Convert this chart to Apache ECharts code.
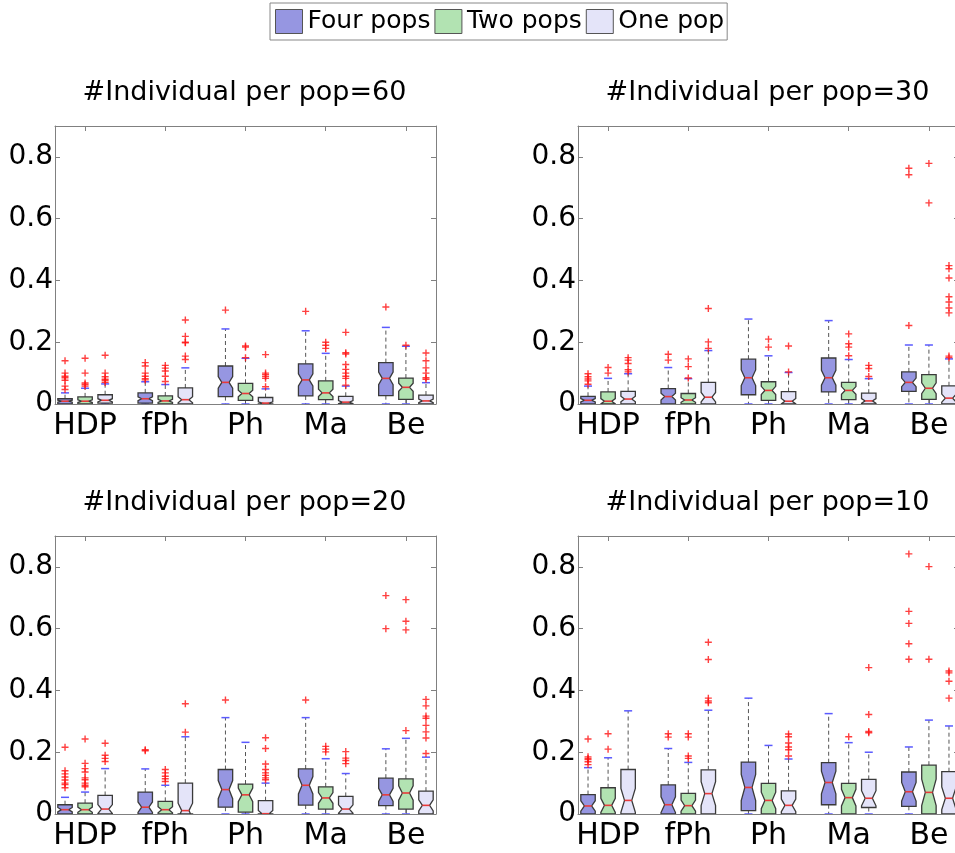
<!DOCTYPE html>
<html>
<head>
<meta charset="utf-8">
<script src="https://cdn.jsdelivr.net/npm/echarts@6/dist/echarts.min.js"></script>
<style>
  html, body { margin: 0; padding: 0; background: #fff; }
  #chart { width: 955px; height: 853px; }
</style>
</head>
<body>
<div id="chart"></div>
<script>
const groups = ["HDP", "fPh", "Ph", "Ma", "Be"];
const popNames = ["Four pops", "Two pops", "One pop"];
const titles = ["#Individual per pop=60", "#Individual per pop=30", "#Individual per pop=20", "#Individual per pop=10"];

// one row per group: [low whisker, Q1, median, Q3, high whisker]
const n60Four = [[0, 0, 0.009, 0.017, 0.036], [0, 0.003, 0.017, 0.036, 0.072], [0, 0.024, 0.07, 0.123, 0.243], [0, 0.026, 0.078, 0.13, 0.237], [0, 0.027, 0.083, 0.134, 0.248]];
const n60Two = [[0, 0, 0.009, 0.023, 0.051], [0, 0, 0.01, 0.026, 0.063], [0, 0.012, 0.034, 0.067, 0.148], [0, 0.014, 0.036, 0.075, 0.164], [0, 0.015, 0.054, 0.084, 0.187]];
const n60One = [[0, 0.003, 0.012, 0.03, 0.065], [0, 0, 0.014, 0.052, 0.117], [0, 0, 0.003, 0.021, 0.049], [0, 0, 0.006, 0.025, 0.058], [0, 0, 0.01, 0.029, 0.069]];
const n60FourOut = [[0.14, 0.10, 0.09, 0.085, 0.077, 0.058, 0.047], [0.134, 0.123, 0.10, 0.09, 0.082, 0.078], [0.304], [0.3], [0.314]];
const n60TwoOut = [[0.148, 0.10, 0.068, 0.063, 0.058], [0.125, 0.116, 0.107, 0.09, 0.073], [0.188, 0.184, 0.15], [0.2, 0.19, 0.18], [0.19]];
const n60OneOut = [[0.158, 0.10, 0.088, 0.08, 0.076, 0.07], [0.272, 0.219, 0.2, 0.198, 0.155, 0.144], [0.16, 0.1, 0.095, 0.089, 0.083, 0.056], [0.232, 0.166, 0.162, 0.128, 0.112, 0.1, 0.09, 0.083, 0.061], [0.165, 0.14, 0.117, 0.1, 0.085, 0.08]];

const n30Four = [[0, 0, 0.012, 0.025, 0.058], [0, 0, 0.024, 0.05, 0.118], [0, 0.03, 0.085, 0.145, 0.275], [0, 0.039, 0.085, 0.149, 0.27], [0, 0.041, 0.07, 0.104, 0.191]];
const n30Two = [[0, 0, 0.009, 0.039, 0.083], [0, 0, 0.013, 0.034, 0.082], [0, 0.012, 0.044, 0.072, 0.156], [0, 0.014, 0.044, 0.07, 0.144], [0, 0.015, 0.051, 0.095, 0.191]];
const n30One = [[0, 0, 0.016, 0.041, 0.098], [0, 0, 0.022, 0.07, 0.173], [0, 0, 0.009, 0.04, 0.102], [0, 0, 0.01, 0.035, 0.082], [0, 0, 0.019, 0.059, 0.146]];
const n30FourOut = [[0.098, 0.088, 0.081, 0.075, 0.064], [0.161, 0.142], [], [], [0.763, 0.742, 0.254]];
const n30TwoOut = [[0.118, 0.1], [0.146, 0.121, 0.084], [0.21, 0.184], [0.227, 0.195, 0.184, 0.156], [0.779, 0.651]];
const n30OneOut = [[0.15, 0.142, 0.131, 0.111, 0.104], [0.309, 0.201, 0.18], [0.188, 0.104], [0.125, 0.115, 0.089], [0.448, 0.438, 0.408, 0.347, 0.33, 0.311, 0.295, 0.155, 0.15]];

const n20Four = [[0, 0, 0.014, 0.03, 0.054], [0, 0, 0.022, 0.071, 0.146], [0, 0.022, 0.079, 0.144, 0.312], [0, 0.029, 0.093, 0.146, 0.312], [0, 0.027, 0.062, 0.116, 0.211]];
const n20Two = [[0, 0, 0.014, 0.035, 0.071], [0, 0, 0.014, 0.041, 0.093], [0, 0.006, 0.062, 0.097, 0.232], [0, 0.016, 0.052, 0.088, 0.179], [0, 0.016, 0.068, 0.114, 0.245]];
const n20One = [[0, 0, 0.016, 0.06, 0.147], [0, 0, 0.011, 0.1, 0.25], [0, 0, 0.001, 0.043, 0.1], [0, 0, 0.016, 0.057, 0.131], [0, 0, 0.028, 0.074, 0.184]];
const n20FourOut = [[0.216, 0.14, 0.13, 0.12, 0.11, 0.10, 0.095, 0.085], [0.208, 0.205], [0.369], [0.369], [0.707, 0.6]];
const n20TwoOut = [[0.243, 0.164, 0.147, 0.136, 0.117, 0.111, 0.1, 0.093, 0.088], [0.144, 0.133, 0.122, 0.114, 0.105], [], [0.219, 0.21, 0.201], [0.694, 0.624, 0.596, 0.27]];
const n20OneOut = [[0.229, 0.19, 0.18, 0.17], [0.357, 0.265], [0.247, 0.212, 0.162, 0.144, 0.133, 0.125, 0.117, 0.111], [0.202, 0.181, 0.173, 0.163], [0.371, 0.35, 0.317, 0.31, 0.287, 0.266, 0.246, 0.196]];

const n10Four = [[0, 0, 0.026, 0.063, 0.15], [0, 0, 0.03, 0.094, 0.212], [0, 0.011, 0.086, 0.168, 0.375], [0, 0.03, 0.102, 0.166, 0.325], [0, 0.025, 0.072, 0.136, 0.217]];
const n10Two = [[0, 0, 0.028, 0.085, 0.182], [0, 0, 0.027, 0.067, 0.167], [0, 0, 0.044, 0.099, 0.222], [0, 0, 0.053, 0.099, 0.231], [0, 0, 0.07, 0.158, 0.304]];
const n10One = [[0, 0, 0.044, 0.144, 0.334], [0, 0, 0.066, 0.143, 0.336], [0, 0, 0.028, 0.075, 0.178], [0, 0.021, 0.051, 0.112, 0.2], [0, 0, 0.051, 0.137, 0.285]];
const n10FourOut = [[0.243, 0.185, 0.18, 0.176, 0.169, 0.16], [0.26, 0.249], [], [], [0.842, 0.656, 0.617, 0.551, 0.501]];
const n10TwoOut = [[0.26, 0.21], [0.26, 0.249, 0.188, 0.18], [], [0.25], [0.801, 0.501]];
const n10OneOut = [[], [0.556, 0.5, 0.375, 0.366, 0.36], [0.259, 0.25, 0.23, 0.217, 0.208, 0.188], [0.474, 0.322, 0.267, 0.263], [0.463, 0.457, 0.43, 0.375]];

// notch half height as a share of the IQR, per panel
const notchShare = [0.19, 0.22, 0.24, 0.27];

const panelStats = [[n60Four, n60Two, n60One], [n30Four, n30Two, n30One], [n20Four, n20Two, n20One], [n10Four, n10Two, n10One]];
const panelOutliers = [[n60FourOut, n60TwoOut, n60OneOut], [n30FourOut, n30TwoOut, n30OneOut], [n20FourOut, n20TwoOut, n20OneOut], [n10FourOut, n10TwoOut, n10OneOut]];

const popColors = ["#9696e1", "#b2e3b2", "#e4e4f9"];
const frameColor = "#808080";
const font = "DejaVu Sans";
const gridPos = [[55, 126], [578, 126], [55, 536], [578, 536]];
const gridW = 381;
const gridH = 278;

// 3 slots per group and an empty slot between groups
const slots = [];
groups.forEach((g, i) => {
  slots.push(g + "-a", g, g + "-c");
  if (i < groups.length - 1) slots.push("gap" + i);
});
const isGroupSlot = index => index % 4 === 1;

const plusSymbol = "path://M4,0H6V4H10V6H6V10H4V6H0V4H4Z";

function boxRenderer(fill, share) {
  return function (params, api) {
    const x = api.value(0);
    const lo = api.value(1), q1 = api.value(2), med = api.value(3), q3 = api.value(4), hi = api.value(5);
    const band = api.size([1, 0])[0];
    const hw = band * 0.36, nw = hw * 0.5, cw = band * 0.2;
    const d = share * (q3 - q1);
    const cx = api.coord([x, med])[0];
    const y = v => api.coord([x, v])[1];
    const dashed = { stroke: "#555", lineWidth: 1, lineDash: [4, 3] };
    const cap = { stroke: "#5a5aff", lineWidth: 1.5 };
    const points = [
      [cx - hw, y(q1)], [cx - hw, y(med - d)], [cx - nw, y(med)], [cx - hw, y(med + d)], [cx - hw, y(q3)],
      [cx + hw, y(q3)], [cx + hw, y(med + d)], [cx + nw, y(med)], [cx + hw, y(med - d)], [cx + hw, y(q1)],
    ];
    return {
      type: "group",
      children: [
        { type: "line", shape: { x1: cx, y1: y(q3), x2: cx, y2: y(hi) }, style: dashed },
        { type: "line", shape: { x1: cx, y1: y(q1), x2: cx, y2: y(lo) }, style: dashed },
        { type: "line", shape: { x1: cx - cw, y1: y(hi), x2: cx + cw, y2: y(hi) }, style: cap },
        { type: "line", shape: { x1: cx - cw, y1: y(lo), x2: cx + cw, y2: y(lo) }, style: cap },
        { type: "polygon", shape: { points }, style: { fill, stroke: "#3a3a3a", lineWidth: 1.3 } },
        { type: "line", shape: { x1: cx - nw, y1: y(med), x2: cx + nw, y2: y(med) }, style: { stroke: "#e83a3a", lineWidth: 1.6 } },
      ],
    };
  };
}

const grid = [], xAxis = [], yAxis = [], title = [], series = [];

gridPos.forEach(([left, top], p) => {
  grid.push({ left, top, width: gridW, height: gridH, show: false, outerBoundsMode: "none", containLabel: false });
  title.push({
    text: titles[p], left: left + gridW / 2 - 6, top: top - 52, textAlign: "center",
    textStyle: { fontFamily: font, fontSize: 27, fontWeight: "normal", color: "#000" },
  });
  const lineStyle = { color: frameColor, width: 1 };
  xAxis.push({
    type: "category", gridIndex: p, data: slots, position: "bottom",
    axisLine: { show: true, onZero: false, lineStyle },
    axisTick: { show: true, inside: true, length: 5, alignWithLabel: true, interval: isGroupSlot, lineStyle },
    axisLabel: { interval: isGroupSlot, margin: 7, color: "#000", fontFamily: font, fontSize: 30 },
  });
  xAxis.push({
    type: "category", gridIndex: p, data: slots, position: "top",
    axisLine: { show: true, onZero: false, lineStyle },
    axisTick: { show: true, inside: true, length: 5, alignWithLabel: true, interval: isGroupSlot, lineStyle },
    axisLabel: { show: false },
  });
  const yBase = {
    type: "value", gridIndex: p, min: 0, max: 0.9, interval: 0.2,
    splitLine: { show: false },
    axisLine: { show: true, onZero: false, lineStyle },
    axisTick: { show: true, inside: true, length: 5, lineStyle },
  };
  yAxis.push({ ...yBase, position: "left",
    axisLabel: { showMaxLabel: false, margin: 2, color: "#000", fontFamily: font, fontSize: 28 } });
  yAxis.push({ ...yBase, position: "right", axisLabel: { show: false } });

  popNames.forEach((name, k) => {
    const stats = panelStats[p][k];
    series.push({
      type: "custom", name, xAxisIndex: p * 2, yAxisIndex: p * 2, clip: true,
      itemStyle: { color: popColors[k], borderColor: "#3a3a3a" },
      renderItem: boxRenderer(popColors[k], notchShare[p]),
      encode: { x: 0, y: [1, 2, 3, 4, 5] },
      data: stats.map((row, g) => [g * 4 + k, ...row]),
      z: 2,
    });
  });
  popNames.forEach((name, k) => {
    const pts = [];
    panelOutliers[p][k].forEach((vals, g) => vals.forEach(v => pts.push([g * 4 + k, v])));
    series.push({
      type: "scatter", name, xAxisIndex: p * 2, yAxisIndex: p * 2,
      symbol: plusSymbol, symbolSize: 7, itemStyle: { color: "#ff1010" },
      data: pts, z: 3,
    });
  });
});

const chart = echarts.init(document.getElementById("chart"));
chart.setOption({
  animation: false,
  backgroundColor: "#fff",
  title,
  legend: {
    left: 270, top: 3, padding: [6, 3, 6, 5], itemGap: 4, itemWidth: 27, itemHeight: 24,
    borderColor: "#888", borderWidth: 1, backgroundColor: "#fff",
    textStyle: { fontFamily: font, fontSize: 25, color: "#000" },
    data: popNames.map((name, i) => ({ name, icon: "rect", itemStyle: { color: popColors[i], borderColor: "#555", borderWidth: 1 } })),
  },
  grid, xAxis, yAxis, series,
});
</script>
</body>
</html>
